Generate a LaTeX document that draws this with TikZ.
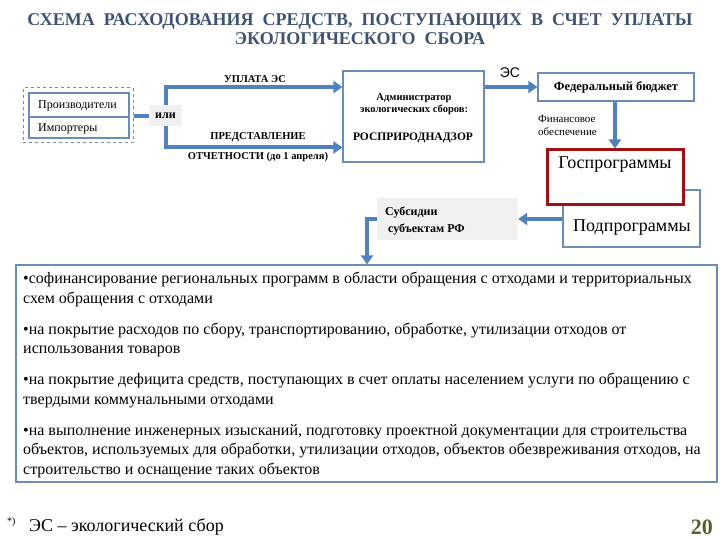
\documentclass[tikz,border=0pt]{standalone}
\usepackage{fontspec}
\setmainfont{Liberation Serif}
\newfontfamily\sansf{Liberation Sans}
\usetikzlibrary{arrows.meta}
\definecolor{blu}{HTML}{4F81BD}
\definecolor{titlec}{HTML}{3E5373}
\definecolor{dred}{HTML}{9E1014}
\definecolor{gfill}{HTML}{F0F0F0}
\definecolor{bord}{HTML}{6A8DB8}
\definecolor{grn}{HTML}{4F6228}
\newcommand{\fs}[1]{\fontsize{#1}{#1}\selectfont}
\begin{document}
\begin{tikzpicture}[x=1pt,y=-1pt,
  box/.style={draw=bord, line width=1.2pt, fill=white, inner sep=0pt},
  flow/.style={draw=blu, line width=4pt, -{Triangle[width=12pt,length=9pt]}},
  plain/.style={draw=blu, line width=4pt},
  lbl/.style={inner sep=0pt, text=black},
]
\useasboundingbox (0,0) rectangle (720,540);

% title
\node[lbl, text=titlec, font=\bfseries\fs{18}, align=center] (title) at (360,29)
  {СХЕМА\ \ РАСХОДОВАНИЯ\ \ СРЕДСТВ,\ \ ПОСТУПАЮЩИХ\ \ В\ \ СЧЕТ\ \ УПЛАТЫ\\[1pt]ЭКОЛОГИЧЕСКОГО\ \ СБОРА};

% left group
\node[draw=bord, dashed, line width=1pt, minimum width=110pt, minimum height=55pt, inner sep=0pt] (grp) at (78,115.5) {};
\node[box, minimum width=100pt, minimum height=24pt] (prod) at (79,105) {};
\node[box, minimum width=100pt, minimum height=21pt] (imp) at (79,127.5) {};
\node[lbl, font=\fs{12}, anchor=west] (prodt) at (38,106) {Производители};
\node[lbl, font=\fs{12}, anchor=west] (impt) at (38,129) {Импортеры};

% admin box
\node[box, minimum width=141pt, minimum height=91pt] (adm) at (413.5,116.5) {};
\node[lbl, font=\bfseries\fs{10.5}] (adm1) at (414,98) {Администратор};
\node[lbl, font=\bfseries\fs{10.5}] (adm2) at (414,110) {экологических сборов:};
\node[lbl, font=\bfseries\fs{11.5}] (adm3) at (413,138) {РОСПРИРОДНАДЗОР};

% federal budget
\node[box, minimum width=156pt, minimum height=28pt] (fed) at (616,87) {};
\node[lbl, font=\bfseries\fs{12.5}] (fedt) at (616,87) {Федеральный бюджет};

% sub programs (behind) and gov programs
\node[box, minimum width=137pt, minimum height=57pt] (pod) at (631.5,218.5) {};
\node[lbl, font=\fs{18}] (podt) at (632,228) {Подпрограммы};
\node[draw=dred, line width=3pt, fill=white, minimum width=136pt, minimum height=55pt, inner sep=0pt] (gos) at (615,177.5) {};
\node[lbl, font=\fs{18}] (gost) at (615,165) {Госпрограммы};

% subsidies
\node[fill=gfill, minimum width=141pt, minimum height=42pt, inner sep=0pt] (sub) at (447.5,219) {};
\node[lbl, font=\bfseries\fs{12}, anchor=west] (sub1) at (385,212) {Субсидии};
\node[lbl, font=\bfseries\fs{12}, anchor=west] (sub2) at (388,230) {субъектам РФ};

% bottom box
\node[box, minimum width=701pt, minimum height=217pt] (bot) at (366.5,373.5) {};
\node[lbl, font=\fontsize{16}{19.5}\selectfont, anchor=north west, align=left] (bott) at (23,272) {%
•софинансирование региональных программ в области обращения с отходами и территориальных\\
схем обращения с отходами\\[11.5pt]
•на покрытие расходов по сбору, транспортированию, обработке, утилизации отходов от\\
использования товаров\\[11.5pt]
•на покрытие дефицита средств, поступающих в счет оплаты населением услуги по обращению с\\
твердыми коммунальными отходами\\[11.5pt]
•на выполнение инженерных изысканий, подготовку проектной документации для строительства\\
объектов, используемых для обработки, утилизации отходов, объектов обезвреживания отходов, на\\
строительство и оснащение таких объектов};

% connectors
\coordinate (split) at (166,116);
\draw[plain] (grp.east |- split) -- (split);
\draw[flow] (split) |- (adm.west |- fed.west);
\draw[flow] (split) |- ([yshift=-31pt]adm.west);
\node[fill=gfill, minimum width=33pt, minimum height=21pt, inner sep=0pt, font=\bfseries\fs{12}] (ili) at (165.5,115.5) {или};

\draw[flow] (adm.east |- fed.west) -- (fed.west);
\draw[flow] (fed.south -| gos.north) -- (gos.north);
\draw[flow] (pod.west |- sub.east) -- (sub.east);
\coordinate (bend) at (367,219);
\draw[flow] (sub.west) -- (bend) -- (bend |- bot.north);

% connector labels
\node[lbl, font=\bfseries\fs{10.5}] (l1) at (255,79) {УПЛАТА ЭС};
\node[lbl, font=\bfseries\fs{10.5}] (l2) at (258,137) {ПРЕДСТАВЛЕНИЕ};
\node[lbl, font=\bfseries\fs{10.5}] (l3) at (258,157) {ОТЧЕТНОСТИ (до 1 апреля)};
\node[lbl, font=\sansf\fs{14}] (es) at (510,73) {ЭС};
\node[lbl, font=\fs{11}, anchor=west, align=left] (fin) at (538,125.5) {Финансовое\\[2pt]обеспечение};

% footnote
\node[lbl, font=\fs{10}, anchor=west] (star) at (7,522) {*)};
\node[lbl, font=\fs{18}, anchor=west] (foot) at (29,527) {ЭС – экологический сбор};
\node[lbl, font=\bfseries\fs{22}, text=grn, anchor=east] (page) at (713,527) {20};
\end{tikzpicture}
\end{document}
